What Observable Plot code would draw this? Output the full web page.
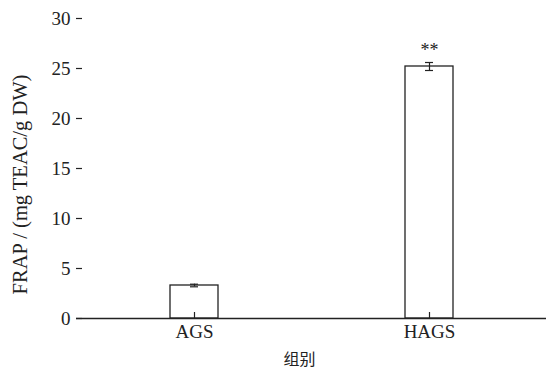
<!DOCTYPE html>
<html><head><meta charset="utf-8">
<script src="https://cdn.jsdelivr.net/npm/d3@7"></script>
<script src="https://cdn.jsdelivr.net/npm/@observablehq/plot@0.6"></script>
<style>body{margin:0;background:#fff}</style>
</head><body><div id="chart"></div>
<script>
const groups = ["AGS", "HAGS"];
const means = [3.3, 25.2];
const errors = [0.13, 0.4];
const marks = ["", "**"];
const yTicks = [0, 5, 10, 15, 20, 25, 30];
const xLabel = "组别";
const yLabel = "FRAP / (mg TEAC/g DW)";

const data = groups.map((g, i) => ({group: g, mean: means[i], err: errors[i], sig: marks[i]}));
const font = "'Liberation Serif', 'Times New Roman', 'Noto Sans CJK SC', serif";
const ink = "#222";

const chart = Plot.plot({
  width: 546, height: 370,
  marginLeft: 76, marginRight: 0, marginTop: 18, marginBottom: 52,
  style: {fontFamily: font, fontSize: "19px", color: ink, background: "#fff"},
  x: {domain: groups, paddingInner: 0.796, paddingOuter: 0.398, label: null, axis: null},
  y: {domain: [0, 30], label: null, axis: null},
  marks: [
    Plot.barY(data, {x: "group", y: "mean", fill: "white", stroke: ink, strokeWidth: 1.3}),
    Plot.ruleX(data, {x: "group", y1: d => d.mean - d.err, y2: d => d.mean + d.err, stroke: ink, strokeWidth: 1.2}),
    Plot.tickY(data, {x: "group", y: d => d.mean - d.err, insetLeft: 20, insetRight: 20, stroke: ink, strokeWidth: 1.2}),
    Plot.tickY(data, {x: "group", y: d => d.mean + d.err, insetLeft: 20, insetRight: 20, stroke: ink, strokeWidth: 1.2}),
    Plot.text(data, {x: "group", y: d => d.mean + d.err, text: "sig", dy: -12, fontSize: 18, fill: ink}),
    Plot.ruleY([0], {stroke: ink, strokeWidth: 1.3}),
    Plot.ruleX([0], {frameAnchor: "left", stroke: ink, strokeWidth: 1.3}),
    // inward y ticks
    Plot.ruleY(yTicks, {y: d => d, insetRight: 464, stroke: ink, strokeWidth: 1.2}),
    // inward x ticks
    Plot.ruleX(groups, {x: d => d, insetTop: 294, stroke: ink, strokeWidth: 1.2}),
    Plot.text(yTicks, {y: d => d, text: d => String(d), frameAnchor: "left", textAnchor: "end", dx: -6, fontSize: 19, fill: ink}),
    Plot.text(groups, {x: d => d, text: d => d, frameAnchor: "bottom", lineAnchor: "top", dy: 6, fontSize: 19, fill: ink}),
    Plot.text([xLabel], {frameAnchor: "bottom", lineAnchor: "middle", dx: -12, dy: 41, fontSize: 16, fill: ink, fontFamily: "'Noto Sans CJK SC', sans-serif"}),
    Plot.text([yLabel], {frameAnchor: "left", textAnchor: "middle", dx: -56, dy: 16, rotate: -90, fontSize: 20.5, fill: ink})
  ]
});
document.getElementById("chart").append(chart);
</script>
</body></html>
